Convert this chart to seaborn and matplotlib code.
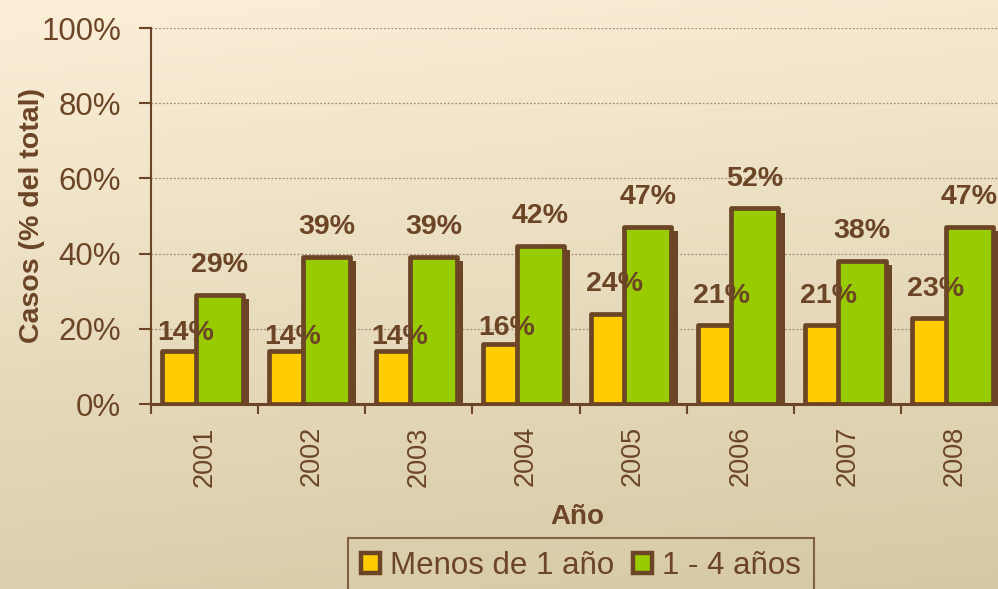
import matplotlib
matplotlib.use("Agg")
import numpy as np
import pandas as pd
import seaborn as sns
import matplotlib.pyplot as plt
from matplotlib import patheffects as pe
from matplotlib.patches import Patch
from matplotlib.ticker import PercentFormatter

# ---------------- data ----------------
years = ["2001", "2002", "2003", "2004", "2005", "2006", "2007", "2008"]
menos_1 = [14, 14, 14, 16, 24, 21, 21, 23]
uno_4 = [29, 39, 39, 42, 47, 52, 38, 47]
series_names = ["Menos de 1 año", "1 - 4 años"]
y_ticks = [0, 20, 40, 60, 80, 100]

# ---------------- style ----------------
BROWN = "#6B4526"
YELLOW = "#FFCC00"
GREEN = "#99CC00"
GRID = "#A08D78"
BAR_W = 0.44
SHIFT = -0.02
label_pad_menos = [3.6, 0.8, 0.8, 2.2, 12.2, 11.5, 11.5, 11.5]
label_pad_uno = [12.2] * 8

sns.set_theme(style="white")
plt.rcParams["font.family"] = ["Liberation Sans", "DejaVu Sans"]

fig = plt.figure(figsize=(9.98, 5.89), dpi=100)

# background gradient
bg = fig.add_axes([0, 0, 1, 1], zorder=-10)
H, W = 589, 998
yy = np.linspace(0, 1, H)[:, None]
xx = np.linspace(0, 1, W)[None, :]
t = np.clip(0.85 * yy + 0.15 * xx, 0, 1)
top = np.array([251, 239, 216]) / 255
bot = np.array([214, 201, 165]) / 255
img = top + (bot - top) * t[..., None]
bg.imshow(img, aspect="auto", interpolation="bilinear")
bg.axis("off")

ax = fig.add_axes([151 / 998, 185 / 589, 857 / 998, 376 / 589])
ax.patch.set_alpha(0)

df = pd.DataFrame({
    "Año": years * 2,
    "valor": menos_1 + uno_4,
    "grupo": [series_names[0]] * len(years) + [series_names[1]] * len(years),
})

sns.barplot(data=df, x="Año", y="valor", hue="grupo", hue_order=series_names,
            palette=[YELLOW, GREEN], saturation=1, width=0.628, dodge=True,
            edgecolor=BROWN, linewidth=3.4, errorbar=None, legend=False, ax=ax)

shadow = [pe.SimplePatchShadow(offset=(4.5, -2.9), shadow_rgbFace=BROWN, alpha=1.0),
          pe.Normal()]
for cont in ax.containers:
    for p in cont:
        c = p.get_x() + p.get_width() / 2 + SHIFT
        p.set_x(c - BAR_W / 2)
        p.set_width(BAR_W)
        p.set_joinstyle("round")
        p.set_path_effects(shadow)

for cont, vals, pads in zip(ax.containers, [menos_1, uno_4], [label_pad_menos, label_pad_uno]):
    for p, v, pad in zip(cont, vals, pads):
        ax.annotate(f"{v}%", (p.get_x() + p.get_width() / 2, p.get_height()),
                    xytext=(0, pad), textcoords="offset points", ha="center",
                    va="bottom", color=BROWN, fontsize=20.5, fontweight="bold")

ax.set_ylim(0, 100)
ax.set_xlim(-0.5, len(years) - 0.5)
ax.set_yticks(y_ticks)
ax.yaxis.set_major_formatter(PercentFormatter(xmax=100, decimals=0))
ax.yaxis.grid(True, linestyle=(0, (1.5, 1.5)), color=GRID, linewidth=0.9)
ax.xaxis.grid(False)
ax.set_axisbelow(True)

ax.tick_params(axis="y", which="major", direction="out", length=8.6, width=1.5,
               color=BROWN, labelcolor=BROWN, labelsize=22.5, pad=13, left=True)
ax.tick_params(axis="x", which="major", length=0, labelcolor=BROWN,
               labelsize=19.5, pad=16, labelrotation=90)
ax.set_xticks(np.arange(-0.5, len(years), 1.0), minor=True)
ax.tick_params(axis="x", which="minor", direction="out", length=7, width=1.5,
               color=BROWN, bottom=True)

for s in ["top", "right"]:
    ax.spines[s].set_visible(False)
ax.spines["left"].set_color(BROWN)
ax.spines["left"].set_linewidth(1.5)
ax.spines["bottom"].set_color(BROWN)
ax.spines["bottom"].set_linewidth(2.2)

ax.set_xlabel("Año", fontsize=20, fontweight="bold", color=BROWN)
ax.xaxis.set_label_coords((577 - 151) / 857, (404 - 517) / 376)
ax.xaxis.label.set_va("center")
ax.set_ylabel("Casos (% del total)", fontsize=20.5, fontweight="bold", color=BROWN)
ax.yaxis.set_label_coords((32 - 151) / 857, (404 - 215.5) / 376)
ax.yaxis.label.set_va("center")

handles = [Patch(facecolor=YELLOW, edgecolor=BROWN, linewidth=3.2, label=series_names[0]),
           Patch(facecolor=GREEN, edgecolor=BROWN, linewidth=3.2, label=series_names[1])]
leg = fig.legend(handles=handles, loc="upper center", bbox_to_anchor=(581 / 998, 1 - 538 / 589),
                 ncol=2, frameon=True, fontsize=22.5, handlelength=0.62, handleheight=0.62,
                 handletextpad=0.32, columnspacing=0.6, borderpad=0.42, borderaxespad=0,
                 fancybox=False, edgecolor=BROWN, facecolor="none", labelcolor=BROWN)
leg.get_frame().set_linewidth(1.5)

fig.savefig("out.png", dpi=100)
